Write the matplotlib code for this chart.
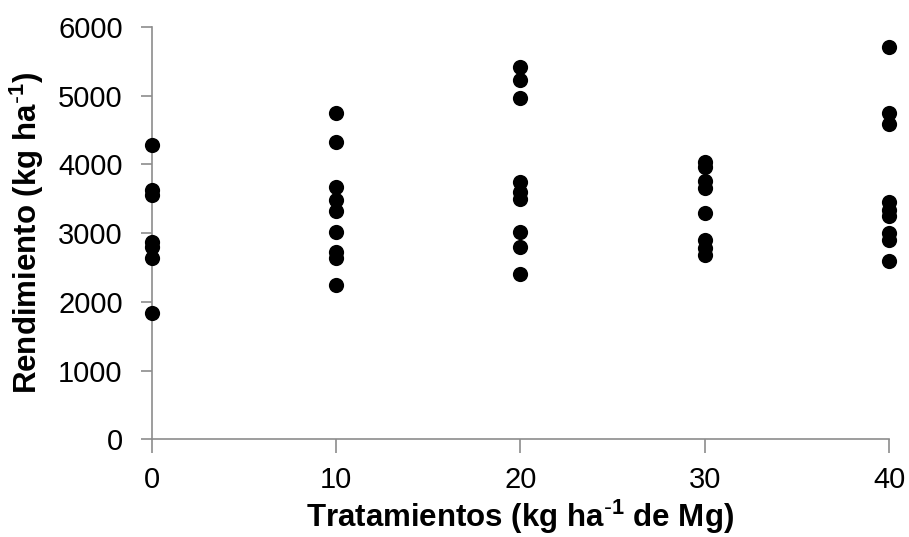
import matplotlib.pyplot as plt
import numpy as np

plt.rcParams['font.family'] = ['Liberation Sans', 'DejaVu Sans']
plt.rcParams['mathtext.default'] = 'regular'

# rendimiento por tratamiento de Mg (kg/ha)
trat = [0, 10, 20, 30, 40]
rend_0 = [4280, 3620, 3550, 2870, 2800, 2630, 1830]
rend_10 = [4750, 4330, 3670, 3480, 3320, 3020, 2730, 2640, 2250]
rend_20 = [5420, 5230, 4970, 3740, 3600, 3500, 3020, 2800, 2400]
rend_30 = [4040, 3960, 3760, 3650, 3290, 2900, 2780, 2680]
rend_40 = [5700, 4750, 4580, 3450, 3330, 3250, 3000, 2900, 2600]
yticks = [0, 1000, 2000, 3000, 4000, 5000, 6000]


def plot(saveloc):
    fig = plt.figure(figsize=(9.09, 5.37), dpi=100)
    ax = fig.add_axes([0.167, 0.182, 0.811, 0.768])

    grupos = [rend_0, rend_10, rend_20, rend_30, rend_40]
    for t, vals in zip(trat, grupos):
        ax.scatter([t] * len(vals), vals, s=120, color='black',
                   linewidths=0, clip_on=False, zorder=3)

    ax.set_xlim(0, 40)
    ax.set_ylim(0, 6000)
    ax.set_xticks(trat)
    ax.set_yticks(yticks)

    for side in ['top', 'right']:
        ax.spines[side].set_visible(False)
    for side in ['left', 'bottom']:
        ax.spines[side].set_color('#8c8c8c')
        ax.spines[side].set_linewidth(1.2)

    ax.tick_params(axis='both', colors='#8c8c8c', labelcolor='black',
                   labelsize=21, width=1.2)
    ax.tick_params(axis='x', length=10, pad=9)
    ax.tick_params(axis='y', length=8, pad=13)

    ax.set_xlabel(r'Tratamientos (kg ha$^{\text{-}1}$ de Mg)', fontsize=22.5,
                  fontweight='bold', labelpad=3)
    ax.set_ylabel(r'Rendimiento (kg ha$^{\text{-}1}$)', fontsize=22.5,
                  fontweight='bold', labelpad=9)

    fig.savefig(saveloc)
    plt.close(fig)


def main():
    plot('out.png')


if __name__ == "__main__":
    main()
